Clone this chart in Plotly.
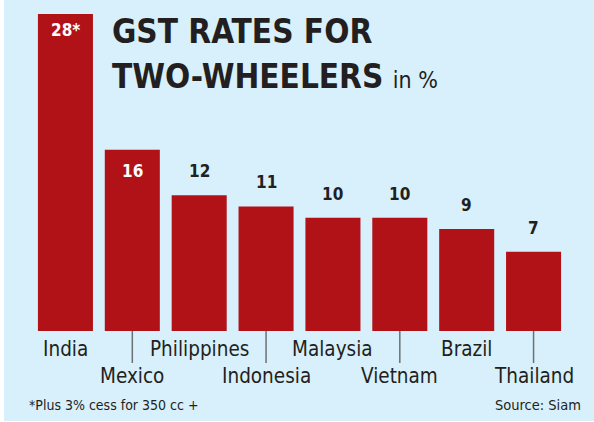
import plotly.graph_objects as go

countries = ["India", "Mexico", "Philippines", "Indonesia", "Malaysia", "Vietnam", "Brazil", "Thailand"]
rates = [28, 16, 12, 11, 10, 10, 9, 7]
value_labels = ["28*", "16", "12", "11", "10", "10", "9", "7"]

BG = "#d7f0fb"
RED = "#b11218"
DARK = "#231f20"
FONT = "'DejaVu Sans Condensed', Roboto, sans-serif"

W, H = 594, 422
ML, MR, MT, MB = 32, 27, 14, 91
PW, PH = W - ML - MR, H - MT - MB
N = len(countries)

fig = go.Figure()
fig.add_trace(go.Bar(x=countries, y=rates, marker=dict(color=RED, line=dict(width=0)),
                     hoverinfo="skip"))

def px_x(p):
    return (p - ML) / PW

def px_y(p):
    return (H - MB - p) / PH

ann = []
shapes = []
for i, (c, v, t) in enumerate(zip(countries, rates, value_labels)):
    inside = i < 2
    ann.append(dict(x=c, y=v, xref="x", yref="y", text="<b>%s</b>" % t, showarrow=False,
                    font=dict(family=FONT, size=17, color="white" if inside else DARK),
                    yshift=(-16 if i == 0 else -21) if inside else 24))
    row2 = i % 2 == 1
    ann.append(dict(x=c, y=0, xref="x", yref="y", text=c, showarrow=False,
                    font=dict(family=FONT, size=20.5, color=DARK),
                    yshift=-45 if row2 else -18))
    if row2:
        xc = (i + 0.5) / N
        shapes.append(dict(type="line", xref="paper", yref="paper",
                           x0=xc, x1=xc, y0=0, y1=px_y(363), line=dict(color="#6d7073", width=1.5)))

ann.append(dict(x=px_x(110), y=px_y(32), xref="paper", yref="paper", xanchor="left", yanchor="middle",
                text="<b>GST RATES FOR</b>", showarrow=False,
                font=dict(family=FONT, size=33, color=DARK)))
ann.append(dict(x=px_x(110), y=px_y(76), xref="paper", yref="paper", xanchor="left", yanchor="middle",
                text="<b>TWO-WHEELERS</b> <span style='font-size:23px'>in %</span>", showarrow=False,
                font=dict(family=FONT, size=33, color=DARK)))
ann.append(dict(x=px_x(27), y=px_y(405), xref="paper", yref="paper", xanchor="left", yanchor="middle",
                text="*Plus 3% cess for 350 cc +", showarrow=False,
                font=dict(family=FONT, size=14, color=DARK)))
ann.append(dict(x=px_x(583), y=px_y(405), xref="paper", yref="paper", xanchor="right", yanchor="middle",
                text="Source: Siam", showarrow=False,
                font=dict(family=FONT, size=14.5, color=DARK)))

# white strip on the left edge and bottom edge
shapes.append(dict(type="rect", xref="paper", yref="paper", x0=px_x(-2), x1=px_x(4),
                   y0=px_y(-2), y1=px_y(424), fillcolor="white", line=dict(width=0), layer="below"))
shapes.append(dict(type="rect", xref="paper", yref="paper", x0=px_x(-2), x1=px_x(596),
                   y0=px_y(421), y1=px_y(424), fillcolor="white", line=dict(width=0), layer="below"))

fig.update_layout(
    width=W, height=H,
    margin=dict(l=ML, r=MR, t=MT, b=MB, pad=0),
    paper_bgcolor=BG, plot_bgcolor=BG,
    bargap=0.177,
    showlegend=False,
    xaxis=dict(range=[-0.5, N - 0.5], showticklabels=False, showgrid=False, zeroline=False,
               showline=False, ticks=""),
    yaxis=dict(range=[0, 28], showticklabels=False, showgrid=False, zeroline=False, showline=False, ticks=""),
    annotations=ann,
    shapes=shapes,
)

fig.write_html("out.html", config={"displayModeBar": False, "staticPlot": True},
               post_script="document.body.style.margin='0';document.body.style.overflow='hidden';")
